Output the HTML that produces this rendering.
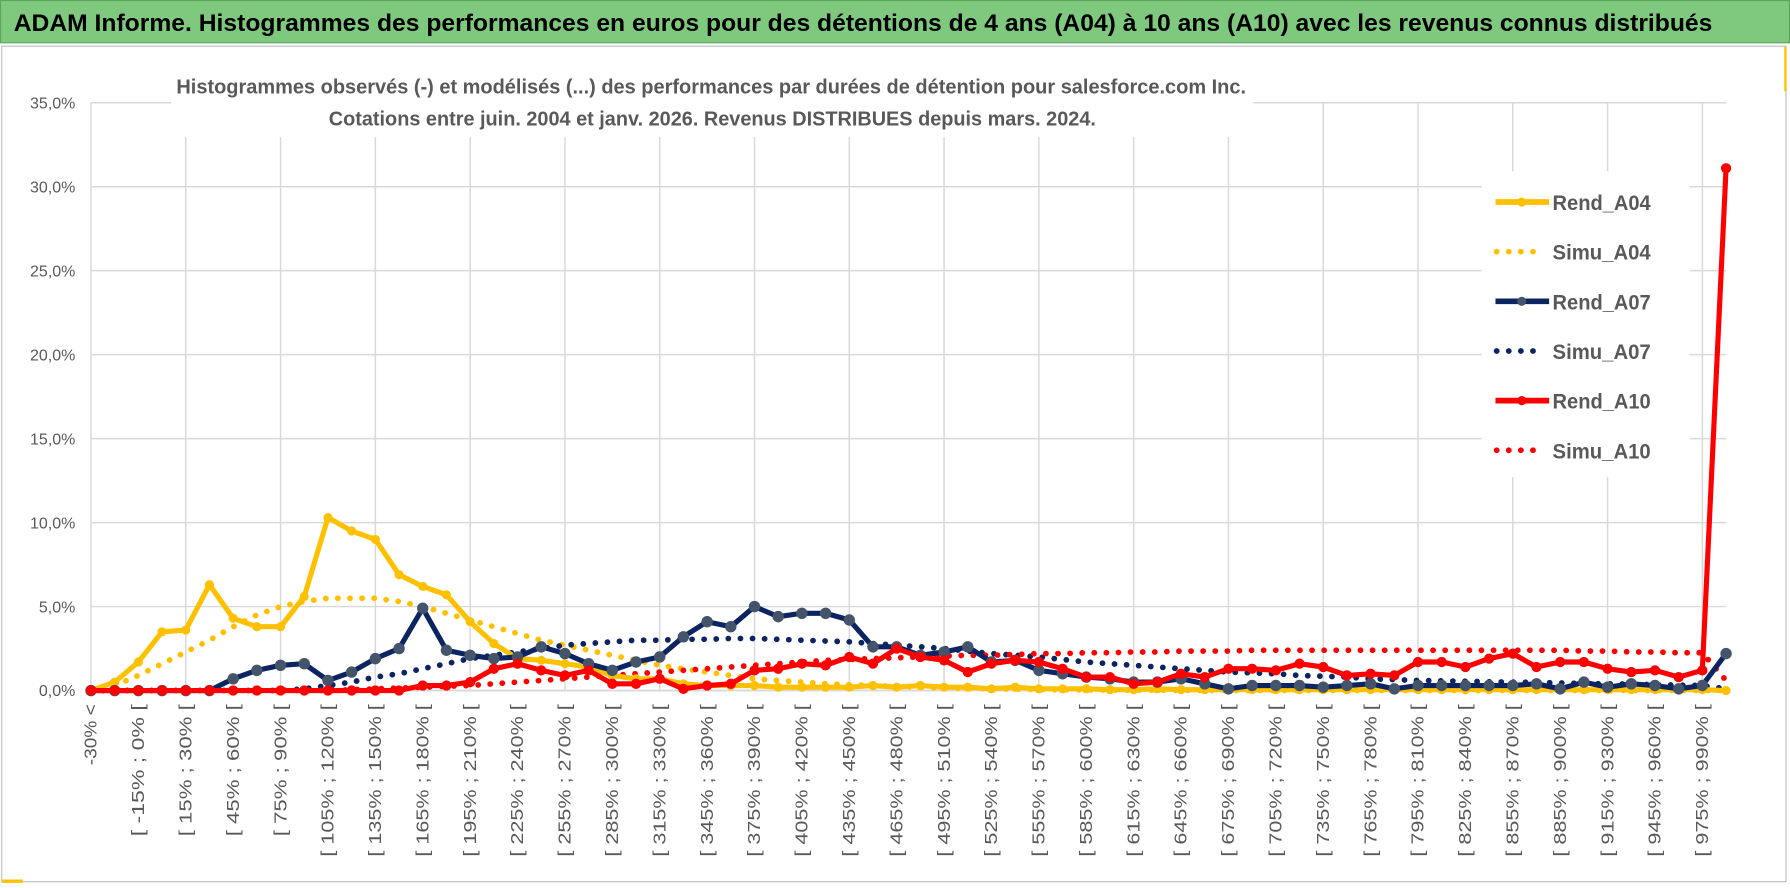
<!DOCTYPE html>
<html><head><meta charset="utf-8">
<style>
html,body{margin:0;padding:0;background:#fff;}
svg{display:block;}
text{font-family:"Liberation Sans Narrow","Liberation Sans",sans-serif;}
</style></head>
<body>
<svg id="chart" width="1790" height="888" viewBox="0 0 1568 778" preserveAspectRatio="none" xmlns="http://www.w3.org/2000/svg">
  <rect x="0" y="0" width="1568" height="778" fill="#fff"/>
  <rect x="0.5" y="0.5" width="1567" height="37" fill="#7fc97f" stroke="#5aa85a"/>
  <text x="12" y="27" font-size="21" font-weight="bold" fill="#000" textLength="1488" lengthAdjust="spacingAndGlyphs">ADAM Informe. Histogrammes des performances en euros pour des détentions de 4 ans (A04) à 10 ans (A10) avec les revenus connus distribués</text>
  <rect x="1.5" y="40.5" width="1563" height="732" fill="none" stroke="#bfbfbf"/>
  <line x1="1564" y1="41" x2="1564" y2="80" stroke="#ffc000" stroke-width="2"/>
  <line x1="2" y1="772" x2="20" y2="772" stroke="#ffc000" stroke-width="3"/>
  <g id="grid"></g>
  <g id="series"></g>
  <g id="xlabels"></g>
  <g id="ylabels"></g>
  <rect x="150" y="58" width="948" height="62" fill="#fff"/>
  <text x="623" y="82" text-anchor="middle" font-size="18" font-weight="bold" fill="#595959" textLength="937" lengthAdjust="spacingAndGlyphs">Histogrammes observés (-) et modélisés (...) des performances par durées de détention pour salesforce.com Inc.</text>
  <text x="624" y="110" text-anchor="middle" font-size="18" font-weight="bold" fill="#595959" textLength="672" lengthAdjust="spacingAndGlyphs">Cotations entre juin. 2004 et janv. 2026. Revenus DISTRIBUES depuis mars. 2024.</text>
  <g id="legend"></g>
</svg>
<script>
const categories = [];
for (let i = 0; i < 70; i++) {
  if (i === 0) categories.push("-30% <");
  else if (i === 69) categories.push("> 990%");
  else { const a = -45 + 15 * i; categories.push("[ " + a + "% ; " + (a + 15) + "% ["); }
}
const yTicks = [0, 5, 10, 15, 20, 25, 30, 35];
const yTickLabels = ["0,0%", "5,0%", "10,0%", "15,0%", "20,0%", "25,0%", "30,0%", "35,0%"];

const rendA04 = [0,0.5,1.7,3.5,3.6,6.3,4.3,3.8,3.8,5.6,10.3,9.5,9.0,6.9,6.2,5.7,4.1,2.8,1.9,1.8,1.6,1.4,0.9,0.7,0.7,0.4,0.3,0.3,0.3,0.2,0.2,0.2,0.2,0.3,0.2,0.3,0.2,0.2,0.1,0.2,0.1,0.1,0.1,0.05,0.05,0.1,0.05,0.05,0.05,0.05,0.05,0.05,0.05,0.05,0.05,0.05,0.05,0.05,0.05,0.05,0.05,0.05,0.05,0.05,0.05,0.05,0.05,0.05,0.05,0];
const simuA04 = [0,0.3,0.9,1.6,2.3,3.0,3.8,4.5,5.0,5.3,5.5,5.5,5.5,5.3,5.0,4.6,4.2,3.8,3.4,3.0,2.7,2.4,2.1,1.8,1.5,1.3,1.1,0.9,0.7,0.6,0.5,0.4,0.35,0.3,0.25,0.2,0.15,0.12,0.1,0.08,0.06,0.05,0.04,0.03,0.02,0.02,0.01,0.01,0,0,0,0,0,0,0,0,0,0,0,0,0,0,0,0,0,0,0,0,0,0];
const rendA07 = [0,0,0,0,0,0,0.7,1.2,1.5,1.6,0.6,1.1,1.9,2.5,4.9,2.4,2.1,1.9,2.0,2.6,2.2,1.6,1.2,1.7,2.0,3.2,4.1,3.8,5.0,4.4,4.6,4.6,4.2,2.6,2.6,2.1,2.3,2.6,1.7,1.8,1.2,1.0,0.8,0.7,0.5,0.5,0.7,0.4,0.1,0.3,0.3,0.3,0.2,0.3,0.4,0.1,0.3,0.3,0.3,0.3,0.3,0.4,0.1,0.5,0.2,0.4,0.3,0.1,0.3,2.2];
const simuA07 = [0,0,0,0,0,0,0,0,0,0.1,0.3,0.5,0.8,1.0,1.3,1.6,1.9,2.1,2.3,2.5,2.7,2.8,2.9,3.0,3.0,3.05,3.05,3.1,3.1,3.05,3.0,2.95,2.9,2.8,2.7,2.6,2.5,2.35,2.2,2.1,2.0,1.85,1.7,1.6,1.5,1.4,1.3,1.2,1.1,1.05,1.0,0.9,0.85,0.8,0.7,0.65,0.6,0.58,0.55,0.52,0.5,0.48,0.45,0.42,0.4,0.38,0.35,0.32,0.3,0.1];
const rendA10 = [0,0,0,0,0,0,0,0,0,0,0,0,0,0,0.3,0.3,0.5,1.3,1.6,1.2,0.9,1.2,0.4,0.4,0.7,0.1,0.3,0.4,1.2,1.3,1.6,1.5,2.0,1.6,2.5,2.0,1.8,1.1,1.6,1.8,1.7,1.3,0.8,0.8,0.4,0.5,1.0,0.8,1.3,1.3,1.2,1.6,1.4,0.9,1.0,0.9,1.7,1.7,1.4,1.9,2.2,1.4,1.7,1.7,1.3,1.1,1.2,0.8,1.2,31.1];
const simuA10 = [0,0,0,0,0,0,0,0,0,0,0,0.05,0.1,0.15,0.2,0.25,0.3,0.4,0.5,0.6,0.7,0.8,0.9,1.0,1.1,1.2,1.3,1.4,1.5,1.6,1.7,1.8,1.85,1.9,1.95,2.0,2.05,2.1,2.1,2.15,2.2,2.2,2.25,2.25,2.3,2.3,2.35,2.35,2.35,2.4,2.4,2.4,2.4,2.4,2.4,2.4,2.4,2.4,2.4,2.4,2.4,2.4,2.4,2.35,2.35,2.3,2.3,2.25,2.25,0.6];

const NS = "http://www.w3.org/2000/svg";
const X0 = 79.7, X1 = 1512, Y0 = 605, Y35 = 90;
function xScale(i){ return X0 + (X1 - X0) * i / (categories.length - 1); }
function yScale(v){ return Y0 - (Y0 - Y35) * v / 35; }
function mk(tag, attrs, parent){ const e = document.createElementNS(NS, tag); for (const k in attrs) e.setAttribute(k, attrs[k]); parent.appendChild(e); return e; }

const grid = document.getElementById("grid");
yTicks.forEach(function(t, k){
  const l = mk("line", {x1: X0, x2: X1, y1: yScale(t), y2: yScale(t), stroke: "#d9d9d9", "stroke-width": 1.3}, grid);
  
  
  const tx = mk("text", {x: 66, y: yScale(t) + 5, "text-anchor": "end", "font-size": 14, fill: "#595959"}, document.getElementById("ylabels"));
  tx.textContent = yTickLabels[k];
  
  
});
for (let i = 0; i < categories.length; i += 4) {
  const l = mk("line", {x1: xScale(i), x2: xScale(i), y1: Y35, y2: Y0, stroke: "#d9d9d9", "stroke-width": 1.3}, grid);
  
  
}
const ax = mk("line", {x1: X0, x2: X1, y1: Y0, y2: Y0, stroke: "#d9d9d9", "stroke-width": 1.5}, grid);



const xl = document.getElementById("xlabels");
for (let i = 0; i < categories.length - 1; i += 2) {
  const x = xScale(i) + 5, y = 617;
  const lbl = categories[i];
  const t = mk("text", {x: x, y: y, "text-anchor": "end", "font-size": 15, fill: "#595959", "font-family": "Liberation Sans, sans-serif", textLength: (lbl.length * 8.9).toFixed(1), lengthAdjust: "spacingAndGlyphs", transform: "rotate(-90 " + x + " " + y + ")"}, xl);
  t.textContent = lbl;
  
  
}

const seriesG = document.getElementById("series");
function drawDotted(vals, color, name){
  const d = vals.map(function(v,i){ return (i ? "L" : "M") + xScale(i).toFixed(1) + "," + yScale(v).toFixed(1); }).join("");
  const p = mk("path", {d: d, fill: "none", stroke: color, "stroke-width": 5, "stroke-linecap": "round", "stroke-dasharray": "0.1 10.5"}, seriesG);
  
  
}
function drawSolid(vals, color, mcolor, r, name){
  const d = vals.map(function(v,i){ return (i ? "L" : "M") + xScale(i).toFixed(1) + "," + yScale(v).toFixed(1); }).join("");
  const g = mk("g", {}, seriesG);
  
  
  mk("path", {d: d, fill: "none", stroke: color, "stroke-width": 4.5, "stroke-linejoin": "round"}, g);
  vals.forEach(function(v,i){
    const c = mk("circle", {cx: xScale(i), cy: yScale(v), r: r, fill: mcolor}, g);
    
    
  });
}
drawDotted(simuA04, "#ffc000", "simu-a04-line");
drawDotted(simuA07, "#0c2461", "simu-a07-line");
drawDotted(simuA10, "#ff0000", "simu-a10-line");
drawSolid(rendA04, "#ffc000", "#ffc000", 4, "rend-a04-line");
drawSolid(rendA07, "#0c2461", "#44546a", 5, "rend-a07-line");
drawSolid(rendA10, "#ff0000", "#ff0000", 4.5, "rend-a10-line");

const lg = document.getElementById("legend");
mk("rect", {x: 1298, y: 150, width: 182, height: 268, fill: "#fff"}, lg);
const legendItems = [["Rend_A04","#ffc000","#ffc000",false],["Simu_A04","#ffc000","#ffc000",true],["Rend_A07","#0c2461","#44546a",false],["Simu_A07","#0c2461","#0c2461",true],["Rend_A10","#ff0000","#ff0000",false],["Simu_A10","#ff0000","#ff0000",true]];
legendItems.forEach(function(it, k){
  const y = 177 + k * 43.5;
  const g = mk("g", {}, lg);
  
  
  if (it[3]) {
    mk("line", {x1: 1311, x2: 1350, y1: y, y2: y, stroke: it[1], "stroke-width": 5, "stroke-linecap": "round", "stroke-dasharray": "0.1 10.5"}, g);
  } else {
    mk("line", {x1: 1310, x2: 1357, y1: y, y2: y, stroke: it[1], "stroke-width": 5}, g);
    mk("circle", {cx: 1333, cy: y, r: 4, fill: it[2]}, g);
  }
  const t = mk("text", {x: 1360, y: y + 7, "font-size": 19, "font-weight": "bold", fill: "#595959", textLength: 86, lengthAdjust: "spacingAndGlyphs"}, g);
  t.textContent = it[0];
});
</script>
</body></html>
